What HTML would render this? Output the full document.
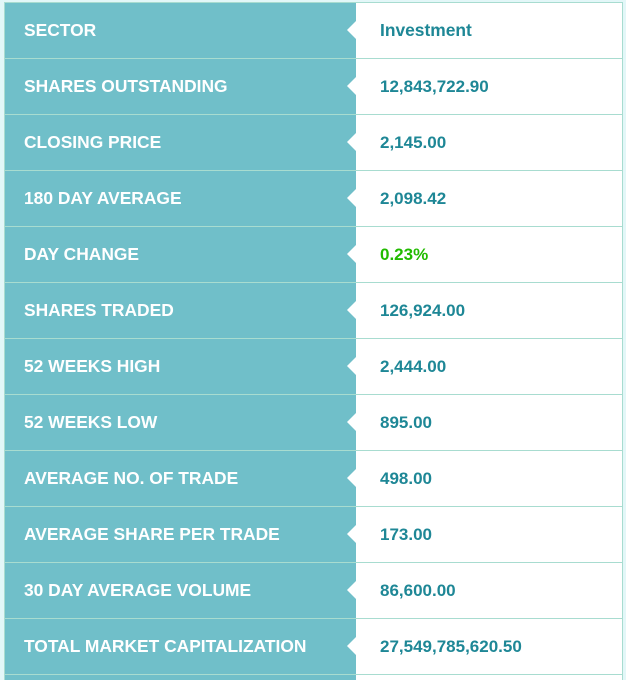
<!DOCTYPE html>
<html style="overflow:hidden;height:680px"><head><style>
html,body{margin:0;width:626px;height:680px;overflow:hidden;}
body{background:#e3f7f8;font-family:"Liberation Sans",Arial,sans-serif;position:relative;}
.wrap{position:absolute;left:4px;top:2px;width:617px;height:677px;background:#fff;border-left:1px solid #a8dcd0;border-right:1px solid #a8dcd0;border-top:1px solid #a8dcd0;overflow:hidden;}
.row{position:relative;height:55px;border-bottom:1px solid #a8dcd0;}
.l{position:absolute;left:0;top:0;width:351px;height:55px;background:#70bfc9;color:#fff;font-weight:bold;font-size:17.4px;line-height:55px;padding-left:19px;box-sizing:border-box;}
.l::after{content:"";position:absolute;right:0;top:18px;border-right:9px solid #fff;border-top:9px solid transparent;border-bottom:9px solid transparent;}
.r{position:absolute;left:375px;top:0;line-height:55px;font-weight:bold;font-size:17px;color:#1e8796;}
</style></head><body><div class="wrap">
<div class="row"><div class="l">SECTOR</div><div class="r" style="font-size:17.4px">Investment</div></div>
<div class="row"><div class="l">SHARES OUTSTANDING</div><div class="r">12,843,722.90</div></div>
<div class="row"><div class="l">CLOSING PRICE</div><div class="r">2,145.00</div></div>
<div class="row"><div class="l">180 DAY AVERAGE</div><div class="r">2,098.42</div></div>
<div class="row"><div class="l">DAY CHANGE</div><div class="r" style="color:#22bb00">0.23%</div></div>
<div class="row"><div class="l">SHARES TRADED</div><div class="r">126,924.00</div></div>
<div class="row"><div class="l">52 WEEKS HIGH</div><div class="r">2,444.00</div></div>
<div class="row"><div class="l">52 WEEKS LOW</div><div class="r">895.00</div></div>
<div class="row"><div class="l">AVERAGE NO. OF TRADE</div><div class="r">498.00</div></div>
<div class="row"><div class="l">AVERAGE SHARE PER TRADE</div><div class="r">173.00</div></div>
<div class="row"><div class="l">30 DAY AVERAGE VOLUME</div><div class="r">86,600.00</div></div>
<div class="row"><div class="l">TOTAL MARKET CAPITALIZATION</div><div class="r">27,549,785,620.50</div></div>
<div class="row" style="height:20px;border:0"><div class="l" style="height:20px"></div></div>
</div></body></html>
